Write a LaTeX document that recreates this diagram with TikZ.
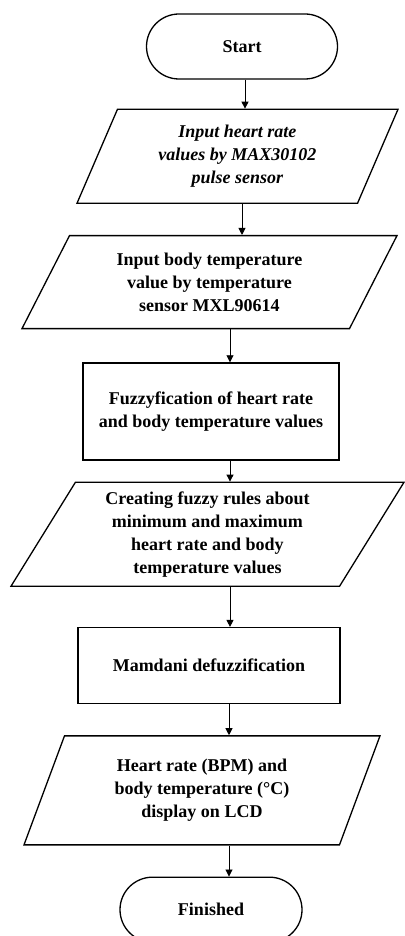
\documentclass[tikz,border=0pt]{standalone}
\usepackage{fontspec}
\setmainfont{Liberation Serif}
\usepackage{tikz}
\usetikzlibrary{shapes.geometric, shapes.misc, arrows.meta, positioning}

\begin{document}
\begin{tikzpicture}[
  font=\fontsize{18}{23}\selectfont\bfseries,
  term/.style={rounded rectangle, draw, line width=1.3pt, minimum width=191pt,
               minimum height=65pt, inner sep=0pt},
  iobox/.style={trapezium, draw, line width=1.3pt, trapezium stretches body,
                align=center, inner sep=0pt},
  procbox/.style={rectangle, draw, line width=1.3pt, align=center, inner sep=0pt},
  arr/.style={-{Triangle[length=7pt, width=7pt]}, line width=0.9pt}
]
  \useasboundingbox (0,0) rectangle (404pt,-936pt);

  \node[term] (start) at (242pt,-46.5pt) {Start};
  \node[iobox, trapezium left angle=57, trapezium right angle=123,
        minimum width=321pt, minimum height=94pt,
        below=29pt of start, xshift=-4.5pt] (hr)
    {\itshape Input heart rate\\\itshape values by MAX30102\\\itshape pulse sensor};
  \node[iobox, trapezium left angle=51, trapezium right angle=129,
        minimum width=375pt, minimum height=93pt,
        below=31pt of hr, xshift=-28pt] (temp)
    {Input body temperature\\value by temperature\\sensor MXL90614};
  \node[procbox, minimum width=256pt, minimum height=97pt,
        below=33pt of temp, xshift=1.5pt] (fuzz)
    {Fuzzyfication of heart rate\\and body temperature values};
  \node[iobox, trapezium left angle=53, trapezium right angle=127,
        minimum width=393pt, minimum height=104pt,
        below=21pt of fuzz, xshift=-3.5pt] (rules)
    {Creating fuzzy rules about\\minimum and maximum\\heart rate and body\\temperature values};
  \node[procbox, minimum width=262pt, minimum height=76pt,
        below=40pt of rules, xshift=1.5pt] (defuzz)
    {Mamdani defuzzification};
  \node[iobox, trapezium left angle=57, trapezium right angle=123,
        minimum width=356pt, minimum height=109pt,
        below=31pt of defuzz, xshift=-7pt] (lcd)
    {Heart rate (BPM) and\\body temperature (°C)\\display on LCD};
  \node[term, minimum width=182pt, below=31pt of lcd, xshift=9pt] (fin) {Finished};

  \draw[arr] ([xshift=3pt]start.south) -- ([xshift=3pt]start.south |- hr.north);
  \draw[arr] ([xshift=4.5pt]hr.south) -- ([xshift=4.5pt]hr.south |- temp.north);
  \draw[arr] ([xshift=20.5pt]temp.south) -- ([xshift=20.5pt]temp.south |- fuzz.north);
  \draw[arr] ([xshift=19pt]fuzz.south) -- ([xshift=19pt]fuzz.south |- rules.north);
  \draw[arr] ([xshift=22.5pt]rules.south) -- ([xshift=22.5pt]rules.south |- defuzz.north);
  \draw[arr] ([xshift=20pt]defuzz.south) -- ([xshift=20pt]defuzz.south |- lcd.north);
  \draw[arr] ([xshift=27pt]lcd.south) -- ([xshift=27pt]lcd.south |- fin.north);
\end{tikzpicture}
\end{document}
